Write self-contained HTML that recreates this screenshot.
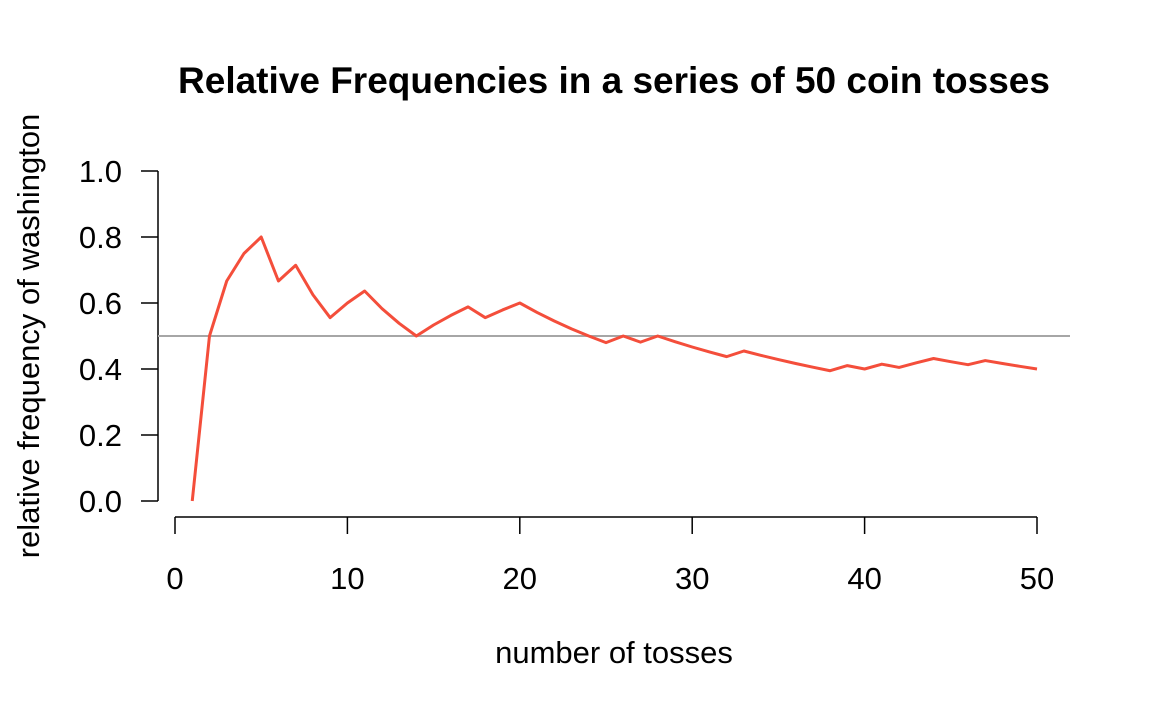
<!DOCTYPE html>
<html><head><meta charset="utf-8"><style>
html,body{margin:0;padding:0;background:#fff;}
svg{display:block;font-family:"Liberation Sans",Arial,sans-serif;}
</style></head><body>
<svg id="chart" width="1152" height="711" viewBox="0 0 1152 711">
<text x="614" y="93" text-anchor="middle" font-size="37" font-weight="bold">Relative Frequencies in a series of 50 coin tosses</text>
<text x="614" y="663" text-anchor="middle" font-size="31">number of tosses</text>
<text transform="translate(39,336) rotate(-90)" text-anchor="middle" font-size="31">relative frequency of washington</text>
<g id="axes"></g>
<g id="marks"></g>
</svg>
<script>
const tosses = [1,2,3,4,5,6,7,8,9,10,11,12,13,14,15,16,17,18,19,20,21,22,23,24,25,26,27,28,29,30,31,32,33,34,35,36,37,38,39,40,41,42,43,44,45,46,47,48,49,50];
const headsCumulative = [0,1,2,3,4,4,5,5,5,6,7,7,7,7,8,9,10,10,11,12,12,12,12,12,12,13,13,14,14,14,14,14,15,15,15,15,15,15,16,16,17,17,18,19,19,19,20,20,20,20];
const xTicks = [0,10,20,30,40,50];
const yTicks = [0,0.2,0.4,0.6,0.8,1.0];
const yTickLabels = ["0.0","0.2","0.4","0.6","0.8","1.0"];
const refLine = 0.5;

const NS="http://www.w3.org/2000/svg";
const sx=v=>175+(1037-175)*v/50;
const sy=v=>501-(501-171)*v;
function mk(tag,attrs,parent){const e=document.createElementNS(NS,tag);for(const k in attrs)e.setAttribute(k,attrs[k]);parent.appendChild(e);return e;}
const axes=document.getElementById('axes'), marks=document.getElementById('marks');

let e=mk('line',{x1:158,x2:158,y1:sy(0),y2:sy(1),stroke:'#000','stroke-width':1.5},axes);


yTicks.forEach((t,i)=>{
  let l=mk('line',{x1:141,x2:158,y1:sy(t),y2:sy(t),stroke:'#000','stroke-width':1.5},axes);
  
  
  let tx=mk('text',{x:122,y:sy(t)+11,'text-anchor':'end','font-size':31},axes);
  tx.textContent=yTickLabels[i];
  
  
});
e=mk('line',{x1:sx(0),x2:sx(50),y1:517,y2:517,stroke:'#000','stroke-width':1.5},axes);


xTicks.forEach(t=>{
  let l=mk('line',{x1:sx(t),x2:sx(t),y1:517,y2:534,stroke:'#000','stroke-width':1.5},axes);
  
  
  let tx=mk('text',{x:sx(t),y:589,'text-anchor':'middle','font-size':31},axes);
  tx.textContent=String(t);
  
  
});
e=mk('line',{x1:158,x2:1070,y1:sy(refLine),y2:sy(refLine),stroke:'#a6a6a6','stroke-width':2},marks);


const pts=tosses.map((n,i)=>sx(n).toFixed(2)+','+sy(headsCumulative[i]/n).toFixed(2)).join(' ');
e=mk('polyline',{points:pts,fill:'none',stroke:'#f44e3b','stroke-width':3,'stroke-linejoin':'round'},marks);


</script>
</body></html>
